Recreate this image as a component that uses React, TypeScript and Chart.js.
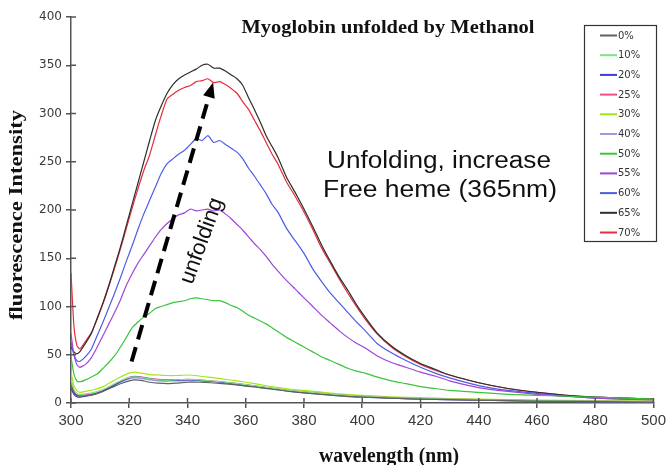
import React, { useEffect, useRef } from "react";
import { Chart, registerables } from "chart.js";

Chart.register(...registerables);

// ---- data ----
const seriesLabels = ["0%", "10%", "20%", "25%", "30%", "40%", "50%", "55%", "60%", "65%", "70%"];
const seriesColors = ["#606060", "#7ee67e", "#3a3ad8", "#f0507c", "#a6e41c", "#9c9ce6", "#3cc43c", "#a044dc", "#4c5ce6", "#2e2e2e", "#e62c3a"];

const xTicks = [300, 320, 340, 360, 380, 400, 420, 440, 460, 480, 500];
const yTicks = [0, 50, 100, 150, 200, 250, 300, 350, 400];

const lowWavelengths = [300, 301, 302, 303, 305, 308, 311, 314, 317, 320, 322, 324, 327, 330, 333, 336, 340, 344, 348, 352, 356, 360, 365, 370, 375, 380, 390, 400, 410, 420, 430, 440, 460, 480, 500];
const highWavelengths = [300, 301, 302, 303, 305, 307, 309, 311, 313, 315, 317, 319, 321, 323, 325, 327, 329, 331, 333, 335, 337, 339, 341, 343, 345, 347, 349, 351, 353, 355, 357, 359, 361, 363, 365, 367, 369, 371, 374, 377, 380, 383, 386, 389, 392, 395, 398, 401, 405, 410, 415, 420, 425, 430, 440, 450, 460, 470, 480, 490, 500];

const meoh0 = [18, 11, 8, 7, 7.5, 9, 12, 16, 20, 23, 24, 23.5, 21.5, 20.5, 20, 20.5, 21.5, 21.5, 21, 20, 19, 17.5, 16, 14, 12, 10.5, 8, 6, 5, 4, 3.5, 3, 2, 1.5, 1];
const meoh10 = [25, 14, 10, 9, 9.5, 11, 14, 18.5, 23, 26.5, 27, 26.5, 25, 24, 23.5, 24, 24.5, 24, 23, 22, 20.5, 19, 17, 15, 13, 11.5, 9, 7, 5.5, 4.5, 4, 3.5, 2.5, 2, 1.5];
const meoh20 = [15, 9, 6.5, 6, 7, 9, 12.5, 17, 22, 26, 27, 26.5, 25, 24, 23.5, 23.5, 24, 23.5, 22.5, 21.5, 20, 18.5, 16.5, 14.5, 12.5, 11, 8.5, 6.5, 5, 4, 3.5, 3, 2, 1.5, 1];
const meoh25 = [22, 12, 8.5, 8, 8.5, 10, 13, 17.5, 22.5, 26.5, 27.5, 27, 25.5, 24.5, 24, 24, 24.5, 24, 23, 22, 20.5, 19, 17, 15, 13, 11.5, 9, 7, 5.5, 4.5, 4, 3.5, 2.5, 2, 1.5];
const meoh30 = [32, 18, 13, 11, 12, 14, 17, 22, 27, 31, 32, 31, 29.5, 29, 28.5, 28.5, 29, 28, 26.5, 25, 23.5, 21.5, 19, 16.5, 14.5, 13, 10, 8, 6.5, 5.5, 4.5, 4, 3, 2.5, 2];
const meoh40 = [20, 10, 7.5, 7, 7.5, 9.5, 12.5, 17, 21.5, 25, 26, 25.5, 24, 23, 22.5, 23, 23, 23, 22, 21, 19.5, 18, 16, 14, 12, 10.5, 8, 6, 5, 4, 3.5, 3, 2, 1.5, 1];

const meoh50 = [48, 30, 23, 22, 24, 27, 30, 36, 42, 49, 58, 68, 78, 84, 89, 93, 98, 100, 102, 104, 105, 106, 108, 109, 108, 107, 106, 106, 104, 101, 99, 95, 91, 88, 85, 82, 78, 74, 68, 63, 58, 53, 48, 44, 40, 36, 33, 31, 27, 23, 20, 17, 15, 13, 11, 9, 8, 7, 6, 5, 4];
const meoh55 = [72, 50, 40, 37, 40, 47, 58, 70, 82, 94, 107, 122, 134, 145, 154, 163, 172, 180, 186, 191, 195, 197, 201, 199, 200, 201, 199, 200, 196, 191, 185, 179, 172, 165, 159, 152, 144, 137, 127, 118, 109, 100, 91, 83, 75, 68, 62, 57, 49, 42, 37, 32, 28, 23, 16, 12, 9, 7, 5, 4, 3];
const meoh60 = [63, 50, 44, 43, 48, 56, 70, 84, 99, 114, 130, 147, 163, 180, 196, 210, 224, 238, 248, 253, 258, 262, 268, 274, 272, 277, 270, 272, 268, 264, 260, 253, 243, 235, 226, 217, 206, 198, 181, 168, 155, 139, 126, 114, 104, 94, 84, 75, 62, 52, 44, 37, 31, 26, 18, 13, 10, 7, 5, 4, 3];
const meoh65 = [58, 53, 51, 53, 62, 72, 88, 104, 122, 142, 162, 184, 206, 228, 250, 272, 293, 308, 321, 330, 336, 340, 343, 346, 350, 351, 347, 347, 344, 340, 336, 329, 316, 304, 291, 277, 266, 255, 234, 218, 201, 183, 164, 147, 131, 117, 102, 89, 73, 59, 49, 41, 35, 29, 21, 15, 11, 8, 6, 5, 4];
const meoh70 = [135, 80, 60, 56, 64, 73, 87, 103, 121, 140, 160, 181, 202, 222, 241, 257, 278, 298, 315, 320, 324, 327, 329, 333, 334, 336, 332, 333, 330, 326, 321, 312, 304, 293, 282, 270, 258, 248, 229, 214, 198, 180, 161, 145, 129, 114, 100, 87, 72, 58, 48, 40, 34, 29, 21, 15, 11, 8, 6, 5, 4];

const seriesValues = [meoh0, meoh10, meoh20, meoh25, meoh30, meoh40, meoh50, meoh55, meoh60, meoh65, meoh70];
const seriesX = [lowWavelengths, lowWavelengths, lowWavelengths, lowWavelengths, lowWavelengths, lowWavelengths, highWavelengths, highWavelengths, highWavelengths, highWavelengths, highWavelengths];

// arrow annotation in data coordinates (tail -> head)
const arrowFrom = { x: 320.8, y: 43 };
const arrowTo = { x: 348.8, y: 332 };

const AXIS_COLOR = "#555555";

function drawFitted(ctx: CanvasRenderingContext2D, text: string, cx: number, cy: number, font: string, width: number, angle = 0, color = "#111", baseline: CanvasTextBaseline = "middle") {
  ctx.save();
  ctx.font = font;
  const w = ctx.measureText(text).width;
  ctx.translate(cx, cy);
  ctx.rotate(angle);
  ctx.scale(width / w, 1);
  ctx.textAlign = "center";
  ctx.textBaseline = baseline;
  ctx.fillStyle = color;
  ctx.fillText(text, 0, 0);
  ctx.restore();
}

const annotationPlugin = {
  id: "customAnnotations",
  afterDraw(chart: any) {
    const { ctx, chartArea } = chart;
    const xs = chart.scales.x;
    const ys = chart.scales.y;
    ctx.save();

    // inward halves of the crossing tick marks
    ctx.strokeStyle = AXIS_COLOR;
    ctx.lineWidth = 1.5;
    xs.ticks.forEach((t: any) => {
      const px = xs.getPixelForValue(t.value);
      ctx.beginPath();
      ctx.moveTo(px, chartArea.bottom);
      ctx.lineTo(px, chartArea.bottom - 5);
      ctx.stroke();
    });
    ys.ticks.forEach((t: any) => {
      const py = ys.getPixelForValue(t.value);
      ctx.beginPath();
      ctx.moveTo(chartArea.left, py);
      ctx.lineTo(chartArea.left + 5, py);
      ctx.stroke();
    });

    // dashed arrow
    const x1 = xs.getPixelForValue(arrowFrom.x);
    const y1 = ys.getPixelForValue(arrowFrom.y);
    const x2 = xs.getPixelForValue(arrowTo.x);
    const y2 = ys.getPixelForValue(arrowTo.y);
    const ang = Math.atan2(y2 - y1, x2 - x1);
    const headLen = 15;
    const headW = 6;
    const bx = x2 - headLen * Math.cos(ang);
    const by = y2 - headLen * Math.sin(ang);
    ctx.strokeStyle = "#000";
    ctx.lineWidth = 4;
    ctx.setLineDash([15, 8]);
    ctx.beginPath();
    ctx.moveTo(x1, y1);
    ctx.lineTo(bx, by);
    ctx.stroke();
    ctx.setLineDash([]);
    ctx.fillStyle = "#000";
    ctx.beginPath();
    ctx.moveTo(x2, y2);
    ctx.lineTo(bx + headW * Math.sin(ang), by - headW * Math.cos(ang));
    ctx.lineTo(bx - headW * Math.sin(ang), by + headW * Math.cos(ang));
    ctx.closePath();
    ctx.fill();

    // texts
    drawFitted(ctx, "Myoglobin unfolded by Methanol", 388, 33, "bold 19px 'Liberation Serif'", 293, 0, "#111", "alphabetic");
    drawFitted(ctx, "Unfolding, increase", 439, 168, "23px 'Liberation Sans'", 224, 0, "#111", "alphabetic");
    drawFitted(ctx, "Free heme (365nm)", 440, 197, "23px 'Liberation Sans'", 234, 0, "#111", "alphabetic");
    drawFitted(ctx, "unfolding", 202, 241, "22px 'Liberation Sans'", 90, -70 * Math.PI / 180, "#111", "middle");
    drawFitted(ctx, "fluorescence Intensity", 17, 215, "bold 18px 'Liberation Serif'", 210, -Math.PI / 2, "#111", "middle");
    drawFitted(ctx, "wavelength (nm)", 389, 462, "bold 20px 'Liberation Serif'", 140, 0, "#111", "alphabetic");

    // legend box
    ctx.strokeStyle = "#333";
    ctx.lineWidth = 1.2;
    ctx.fillStyle = "#fff";
    ctx.fillRect(584, 25, 73, 217);
    ctx.strokeRect(584.5, 25.5, 72, 216);
    chart.data.datasets.forEach((ds: any, i: number) => {
      const ly = 35.5 + i * 19.7;
      ctx.strokeStyle = ds.borderColor;
      ctx.lineWidth = 2;
      ctx.beginPath();
      ctx.moveTo(600, ly);
      ctx.lineTo(617, ly);
      ctx.stroke();
      ctx.fillStyle = "#333";
      ctx.font = "10px 'DejaVu Sans'";
      ctx.textAlign = "left";
      ctx.textBaseline = "middle";
      ctx.fillText(ds.label, 618, ly + 0.5);
    });

    ctx.restore();
  },
};

export default function App() {
  const canvasRef = useRef<HTMLCanvasElement | null>(null);

  useEffect(() => {
    if (!canvasRef.current) return;
    const datasets = seriesLabels.map((label, i) => ({
      label,
      data: seriesX[i].map((x, j) => ({ x, y: seriesValues[i][j] })),
      borderColor: seriesColors[i],
      backgroundColor: seriesColors[i],
      borderWidth: 1.2,
      pointRadius: 0,
      tension: 0.2,
      fill: false,
    }));

    const chart = new Chart(canvasRef.current, {
      type: "line",
      data: { datasets },
      options: {
        animation: false,
        responsive: false,
        devicePixelRatio: 1,
        layout: { padding: { left: 0, top: 17, right: 14, bottom: 0 } },
        plugins: {
          legend: { display: false },
          tooltip: { enabled: false },
          title: { display: false },
        },
        scales: {
          x: {
            type: "linear",
            min: 300,
            max: 500,
            afterBuildTicks: (s: any) => { s.ticks = xTicks.map((v) => ({ value: v })); },
            afterFit: (s: any) => { s.height = 62; },
            grid: { drawOnChartArea: false, drawTicks: true, tickLength: 5, color: AXIS_COLOR, lineWidth: 1.5 },
            border: { color: AXIS_COLOR, width: 1.5 },
            ticks: {
              padding: 4,
              maxRotation: 0,
              autoSkip: false,
              color: "#3a3a3a",
              font: { family: "'Liberation Sans'", size: 15 },
            },
          },
          y: {
            type: "linear",
            min: 0,
            max: 400,
            afterBuildTicks: (s: any) => { s.ticks = yTicks.map((v) => ({ value: v })); },
            afterFit: (s: any) => { s.width = 71; },
            grid: { drawOnChartArea: false, drawTicks: true, tickLength: 5, color: AXIS_COLOR, lineWidth: 1.5 },
            border: { color: AXIS_COLOR, width: 1.5 },
            ticks: {
              padding: 4,
              autoSkip: false,
              color: "#3a3a3a",
              font: { family: "'DejaVu Sans'", size: 12 },
            },
          },
        },
      },
      plugins: [annotationPlugin],
    });
    return () => chart.destroy();
  }, []);

  return (
    <div style={{ position: "absolute", left: 0, top: 0, width: 670, height: 465, background: "#fff" }}>
      <canvas ref={canvasRef} width={670} height={465} style={{ width: 670, height: 465, display: "block" }} />
    </div>
  );
}
